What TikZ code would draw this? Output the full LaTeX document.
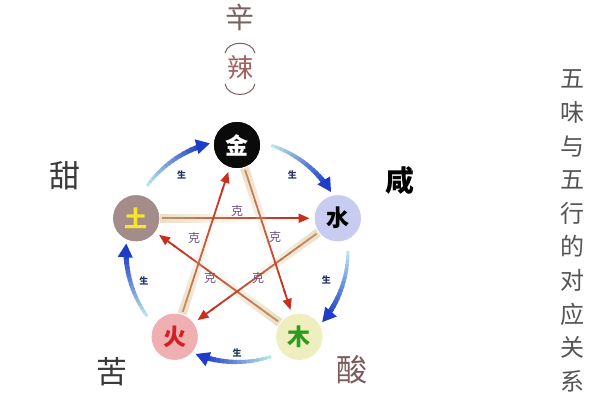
\documentclass[tikz,border=0pt]{standalone}
\usepackage{fontspec}
\newfontfamily\cjk{Noto Sans CJK SC}
\usetikzlibrary{arrows.meta,calc}
\definecolor{jinc}{HTML}{0A0A0A}
\definecolor{shuic}{HTML}{C8CCF0}
\definecolor{muc}{HTML}{EEEEBE}
\definecolor{huoc}{HTML}{F0B0B2}
\definecolor{tuc}{HTML}{A48C8A}
\definecolor{tutext}{HTML}{F5E628}
\definecolor{mutext}{HTML}{2E9A1E}
\definecolor{huotext}{HTML}{D42020}
\definecolor{shengA}{HTML}{B8E4EC}
\definecolor{shengB}{HTML}{1E3CC8}
\definecolor{keband}{HTML}{DCC090}
\definecolor{keA}{HTML}{C09060}
\definecolor{keB}{HTML}{C8301E}
\definecolor{shenglab}{HTML}{203060}
\definecolor{kelab}{HTML}{6A5080}
\definecolor{labgrey}{HTML}{3A3A3A}
\definecolor{suanc}{HTML}{7A5A5A}
\definecolor{xinc}{HTML}{7A6262}
\definecolor{lac}{HTML}{A06060}
\definecolor{sidec}{HTML}{555555}
\tikzset{
  elem/.style={circle, minimum size=46pt, inner sep=0pt, font=\cjk\bfseries\fontsize{23}{23}\selectfont},
  shenglabel/.style={font=\cjk\bfseries\fontsize{9}{9}\selectfont, text=shenglab, inner sep=0pt},
  kelabel/.style={font=\cjk\fontsize{12}{12}\selectfont, text=kelab, inner sep=0pt},
  flavour/.style={font=\cjk\fontsize{31}{31}\selectfont, inner sep=0pt}
}
\newcommand\myshengarc[2]{%
  \foreach \k in {0,...,15}{%
    \pgfmathsetmacro\aa{#1+(#2-4-#1)*\k/16}%
    \pgfmathsetmacro\bb{#1+(#2-4-#1)*(\k+1)/16+0.6}%
    \pgfmathtruncatemacro\pp{100*\k/15}%
    \pgfmathsetmacro\ww{3+2.2*\k/15}%
    \draw[line width=\ww pt, shengB!\pp!shengA] ($(c)+(\aa:111)$) arc[start angle=\aa, end angle=\bb, radius=111];
  }%
  \draw[line width=5pt, shengB, -{Triangle[length=14pt,width=14pt]}] ($(c)+(#2-5:111)$) arc[start angle=#2-5, end angle=#2, radius=111];
}
\newcommand\mykeline[2]{%
  % faded tan band
  \foreach \k in {0,...,19}{%
    \pgfmathsetmacro\aa{0.12+0.45*\k/20}%
    \pgfmathsetmacro\bb{0.12+0.45*(\k+1)/20}%
    \pgfmathsetmacro\oo{0.5*(1-\k/20)}%
    \draw[line width=9pt, keband, draw opacity=\oo] ($(#1)!\aa!(#2)$) -- ($(#1)!\bb!(#2)$);
  }%
  % core line
  \foreach \k in {0,...,11}{%
    \pgfmathsetmacro\aa{0.13+0.64*\k/12}%
    \pgfmathsetmacro\bb{0.13+0.64*(\k+1)/12+0.004}%
    \pgfmathtruncatemacro\pp{100*\k/11}%
    \draw[line width=1.8pt, keB!\pp!keA] ($(#1)!\aa!(#2)$) -- ($(#1)!\bb!(#2)$);
  }%
  \draw[line width=1.8pt, keB, -{Triangle[length=11pt,width=9pt]}] ($(#1)!0.76!(#2)$) -- ($(#1)!0.86!(#2)$);
}
\begin{document}
\begin{tikzpicture}[x=1pt,y=-1pt]
\useasboundingbox (0,0) rectangle (600,400);
\fill[white] (0,0) rectangle (600,400);
\coordinate (c) at (237,251);
% element nodes (placed first so connectors can refer to them)
\node[elem, fill=jinc, text=white] (jin) at ($(c)+(-90:106)$) {金};
\node[elem, fill=shuic, text=black] (shui) at ($(c)+(-18:106)$) {水};
\node[elem, fill=muc, text=mutext] (mu) at ($(c)+(54:106)$) {木};
\node[elem, fill=huoc, text=huotext] (huo) at ($(c)+(126:106)$) {火};
\node[elem, fill=tuc, text=tutext] (tu) at ($(c)+(198:106)$) {土};
% ke (star) arrows
\mykeline{tu}{shui}
\mykeline{mu}{tu}
\mykeline{shui}{huo}
\mykeline{jin}{mu}
\mykeline{huo}{jin}
% sheng (cycle) arrows
\myshengarc{-72}{-32}
\myshengarc{0}{40}
\myshengarc{72}{112}
\myshengarc{144}{184}
\myshengarc{216}{256}
% redraw nodes on top
\node[elem, fill=jinc, text=white] at (jin) {金};
\node[elem, fill=shuic, text=black] at (shui) {水};
\node[elem, fill=muc, text=mutext] at (mu) {木};
\node[elem, fill=huoc, text=huotext] at (huo) {火};
\node[elem, fill=tuc, text=tutext] at (tu) {土};
% sheng labels
\node[shenglabel] (s1) at ($(c)+(-54:94)$) {生};
\node[shenglabel] (s2) at ($(c)+(18:94)$) {生};
\node[shenglabel] (s3) at ($(c)+(90:102)$) {生};
\node[shenglabel] (s4) at ($(c)+(162:98)$) {生};
\node[shenglabel] (s5) at ($(c)+(234:94)$) {生};
% ke labels
\node[kelabel] (k1) at (237,211) {克};
\node[kelabel] (k2) at (194,238) {克};
\node[kelabel] (k3) at (275,237) {克};
\node[kelabel] (k4) at (210,278) {克};
\node[kelabel] (k5) at (258,278) {克};
% flavours
\node[flavour, text=labgrey] (tian) at (65,176) {甜};
\node[flavour, font=\cjk\bfseries\fontsize{29}{29}\selectfont, text=black] (xian) at (400,180) {咸};
\node[flavour, text=labgrey] (ku) at (112,372) {苦};
\node[flavour, text=suanc] (suan) at (352,370) {酸};
\node[flavour, font=\cjk\fontsize{29}{29}\selectfont, text=xinc] (xin) at (240,17) {辛};
\node[flavour, font=\cjk\fontsize{26}{26}\selectfont, text=lac] (la) at (240,68) {辣};
\draw[line width=1pt, xinc] (225,53) .. controls (228,40) and (252,40) .. (255,53);
\draw[line width=1pt, xinc] (225,84) .. controls (228,98) and (252,98) .. (255,84);
% side title
\node[font=\cjk\fontsize{24}{33.6}\selectfont, text=sidec, align=center, inner sep=0pt] (title) at (572,231)
  {五\\味\\与\\五\\行\\的\\对\\应\\关\\系};
\end{tikzpicture}
\end{document}
